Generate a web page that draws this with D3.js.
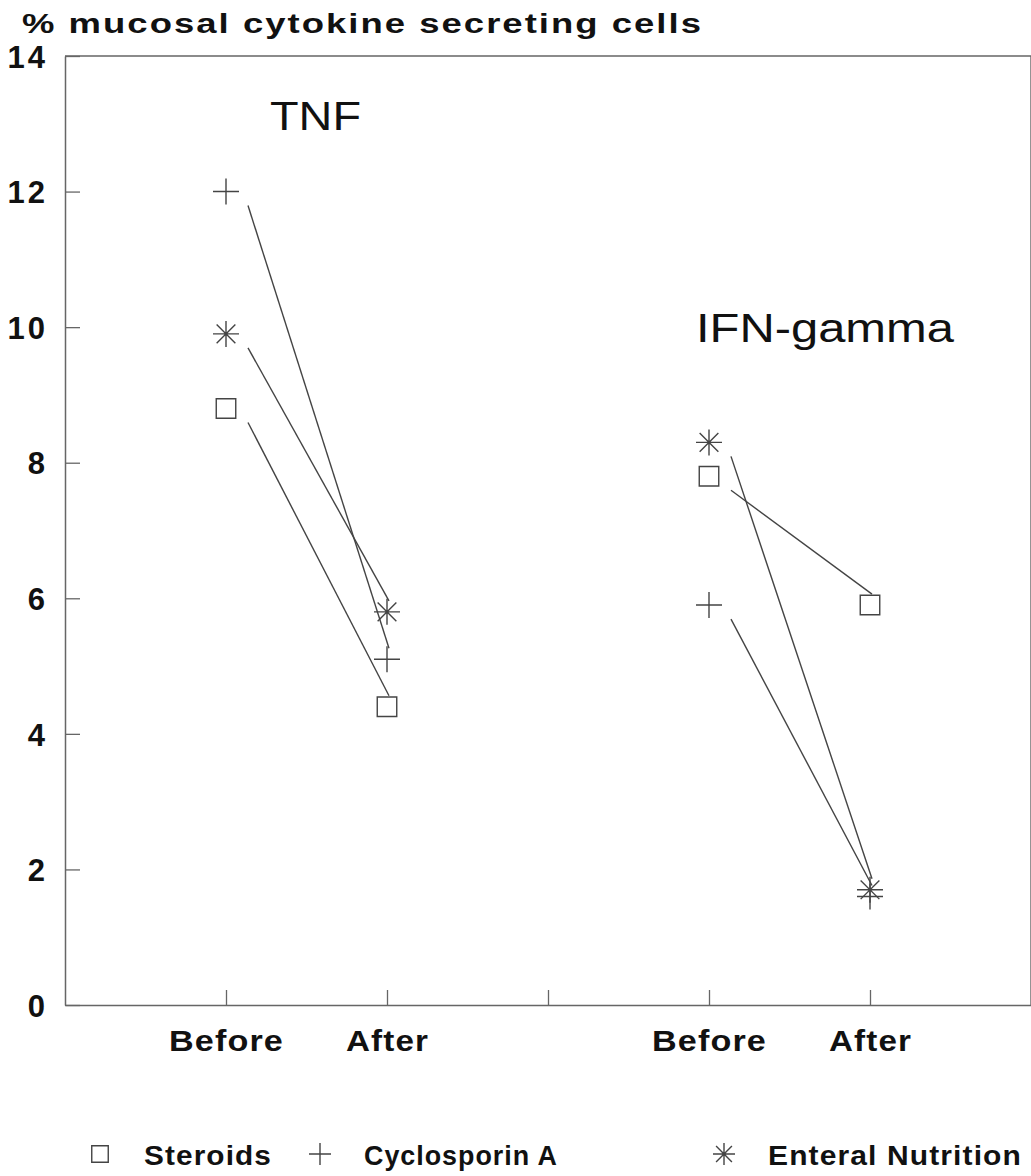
<!DOCTYPE html>
<html>
<head>
<meta charset="utf-8">
<script src="https://cdn.jsdelivr.net/npm/d3@7"></script>
<style>
  body { margin: 0; background: #fff; }
  text { font-family: "Liberation Sans", Arial, sans-serif; fill: #111; }
</style>
</head>
<body>
<svg id="chart" width="1031" height="1176"></svg>
<script>
// data
var series = ["Steroids", "Cyclosporin A", "Enteral Nutrition"];
var symbols = ["square", "cross", "asterisk"];
var groups = ["TNF", "IFN-gamma"];
var tnfBefore = [8.8, 12.0, 9.9];
var tnfAfter = [4.4, 5.1, 5.8];
var ifnBefore = [7.8, 5.9, 8.3];
var ifnAfter = [5.9, 1.6, 1.7];
var yTicks = [0, 2, 4, 6, 8, 10, 12, 14];
var xTickPos = [1, 2, 3, 4, 5];
var xTickLabels = ["Before", "After", "", "Before", "After"];

var svg = d3.select("#chart");
var x = d3.scaleLinear().domain([0, 6]).range([65, 1031]);
var y = d3.scaleLinear().domain([0, 14]).range([1005, 56]);

// frame (top + right border)
svg.append("path")
   .attr("d", "M" + x(0) + "," + y(14) + "H" + x(6) + "V" + y(0))
   .attr("fill", "none").attr("stroke", "#666").attr("stroke-width", 1.4);

// y axis, ticks pointing inside
var yAxis = svg.append("g").attr("transform", "translate(" + x(0) + ",0)")
   .call(d3.axisLeft(y).tickValues(yTicks).tickSizeInner(-15).tickSizeOuter(0).tickPadding(17));
yAxis.select(".domain").attr("stroke", "#666").attr("stroke-width", 1.5);
yAxis.selectAll(".tick line").attr("stroke", "#666").attr("stroke-width", 1.3);
yAxis.selectAll(".tick text")
   .style("font-family", "Liberation Sans, Arial, sans-serif")
   .style("font-size", "31px").style("font-weight", "bold")
   .style("letter-spacing", "3px").attr("fill", "#111").attr("dy", "0.36em");

// x axis
var xAxis = svg.append("g").attr("transform", "translate(0," + y(0) + ")")
   .call(d3.axisBottom(x).tickValues(xTickPos)
     .tickFormat(function(d, i) { return xTickLabels[i]; })
     .tickSizeInner(-15).tickSizeOuter(0).tickPadding(25));
xAxis.select(".domain").attr("stroke", "#666").attr("stroke-width", 1.5);
xAxis.selectAll(".tick line").attr("stroke", "#666").attr("stroke-width", 1.3);
xAxis.selectAll(".tick text")
   .style("font-family", "Liberation Sans, Arial, sans-serif")
   .style("font-size", "30px").style("font-weight", "bold")
   .style("letter-spacing", "1px")
   .attr("fill", "#111")
   .attr("textLength", function(d, i) { return xTickLabels[i] == "Before" ? 115 : (xTickLabels[i] ? 83 : null); })
   .attr("lengthAdjust", "spacingAndGlyphs");

// axis title
svg.append("text").attr("x", 22).attr("y", 33)
   .attr("textLength", 681).attr("lengthAdjust", "spacingAndGlyphs")
   .style("font-size", "27px").style("font-weight", "bold").style("letter-spacing", "1.5px")
   .text("% mucosal cytokine secreting cells");

// group titles
svg.append("text").attr("x", 270).attr("y", 130)
   .attr("textLength", 91).attr("lengthAdjust", "spacingAndGlyphs")
   .style("font-size", "41px").text(groups[0]);
svg.append("text").attr("x", 696).attr("y", 342)
   .attr("textLength", 258).attr("lengthAdjust", "spacingAndGlyphs")
   .style("font-size", "41px").text(groups[1]);

function drawSymbol(g, type, cx, cy, s) {
  var p = d3.path();
  if (type == "square") {
    p.rect(cx - s * 0.75, cy - s * 0.75, s * 1.5, s * 1.5);
  } else if (type == "cross") {
    p.moveTo(cx - s, cy); p.lineTo(cx + s, cy);
    p.moveTo(cx, cy - s); p.lineTo(cx, cy + s);
  } else {
    var d = s * 0.72;
    p.moveTo(cx - s, cy); p.lineTo(cx + s, cy);
    p.moveTo(cx, cy - s); p.lineTo(cx, cy + s);
    p.moveTo(cx - d, cy - d); p.lineTo(cx + d, cy + d);
    p.moveTo(cx - d, cy + d); p.lineTo(cx + d, cy - d);
  }
  g.append("path").attr("d", p.toString())
   .attr("fill", "none").attr("stroke", "#444").attr("stroke-width", 1.4);
}

var panels = [
  { before: tnfBefore, after: tnfAfter, x0: 1, x1: 2 },
  { before: ifnBefore, after: ifnAfter, x0: 4, x1: 5 }
];
var marks = svg.append("g");
panels.forEach(function(pn) {
  series.forEach(function(s, i) {
    // connecting line, drawn a bit off the markers as in the original
    marks.append("line")
       .attr("x1", x(pn.x0) + 22).attr("y1", y(pn.before[i]) + 14)
       .attr("x2", x(pn.x1) + 2).attr("y2", y(pn.after[i]) - 11)
       .attr("stroke", "#444").attr("stroke-width", 1.4);
    drawSymbol(marks, symbols[i], x(pn.x0), y(pn.before[i]), 13);
    drawSymbol(marks, symbols[i], x(pn.x1), y(pn.after[i]), 13);
  });
});

// legend
var legX = [100, 320, 724];
var legTextW = [128, 194, 254];
var legend = svg.append("g");
series.forEach(function(s, i) {
  drawSymbol(legend, symbols[i], legX[i], 1154, 11);
  legend.append("text").attr("x", legX[i] + 44).attr("y", 1165)
     .attr("textLength", legTextW[i]).attr("lengthAdjust", "spacingAndGlyphs")
     .style("font-size", "27px").style("font-weight", "bold").style("letter-spacing", "1px")
     .text(s);
});
</script>
</body>
</html>
